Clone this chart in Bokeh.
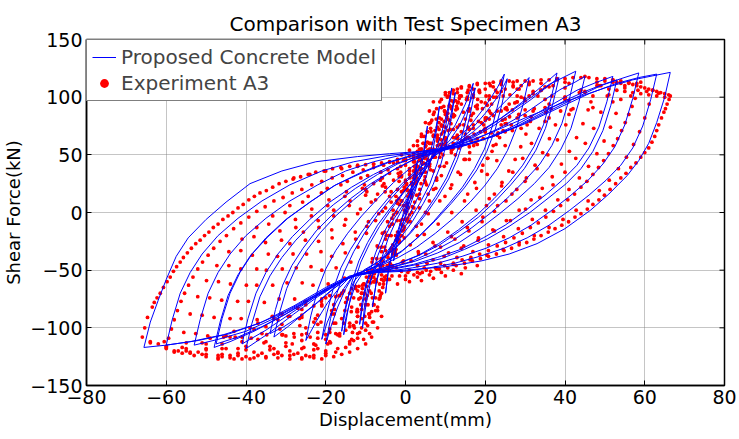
import math
from bokeh.plotting import figure
from bokeh.models import Range1d, FixedTicker, Legend, LegendItem
from bokeh.embed import file_html
from bokeh.resources import INLINE

title_text = "Comparison with Test Specimen A3"
x_label = "Displacement(mm)"
y_label = "Shear Force(kN)"
x_ticks = [-80, -60, -40, -20, 0, 20, 40, 60, 80]
y_ticks = [-150, -100, -50, 0, 50, 100, 150]
model_label = "Proposed Concrete Model"
exp_label = "Experiment A3"

# ---- Proposed concrete model: (displacement mm, shear kN), cycle by cycle ----
m01 = [(0,0),(1,15),(2,30),(3,45),(2.3,28),(1.3,12),(0,-2),(-1.3,-16),(-2.3,-30),(-3,-42)]
m02 = [(-2,-20),(-0.5,0),(1.3,18),(3,34),(4.5,52),(5.5,75),(4.8,55),(3.8,36),(2.4,18),(0.7,2),(-1.2,-14),(-3,-32),(-4.3,-50),(-5,-70)]
m03 = [(-4.2,-48),(-3,-28),(-1.4,-10),(0.5,6),(2.6,22),(4.5,36),(6.2,52),(7.5,70),(8.5,92),(7.7,70),(6.7,50),(5.3,32),(3.5,16),(1.4,1),(-1,-14),(-3.5,-29),(-5.8,-44),(-7.3,-60),(-8.3,-82)]
m04 = [(-7.3,-60),(-6,-40),(-4.3,-22),(-2.2,-6),(0.3,10),(3,26),(5.5,40),(7.3,52),(8.8,66),(10.3,85),(11.6,108),(10.6,85),(9.4,62),(7.9,42),(6,24),(3.6,8),(0.8,-8),(-2.5,-24),(-5.5,-38),(-7.8,-50),(-9.5,-66),(-10.3,-82),(-10.8,-100)]
m05 = [(-9.8,-78),(-8.5,-56),(-6.9,-37),(-5,-20),(-2.8,-5),(0,10),(3,26),(5.5,40),(7.5,52),(9.5,64),(11.2,82),(12.5,104),(11.5,82),(10.3,60),(8.8,41),(6.9,24),(4.5,8),(1.7,-8),(-1.5,-23),(-4.8,-37),(-7.8,-48),(-9.8,-60),(-10.9,-78),(-11.5,-97)]
m06 = [(-10.5,-75),(-9.2,-54),(-7.5,-35),(-5.5,-18),(-3.2,-3),(-0.4,12),(2.6,27),(5.5,41),(7.7,52),(10,62),(12.5,76),(15,94),(17,112),(15.8,90),(14.3,68),(12.5,48),(10.3,30),(7.6,14),(4.5,-2),(1,-18),(-3,-32),(-7,-43),(-10.5,-51),(-12.5,-62),(-14,-78),(-15,-92),(-15.5,-106)]
m07 = [(-14.4,-84),(-13,-62),(-11.2,-43),(-9,-27),(-6.5,-12),(-3.5,3),(-0.3,18),(3,32),(6,45),(8.3,54),(11,62),(13.5,75),(15.8,92),(17.5,108),(16.3,86),(14.8,65),(13,46),(10.8,29),(8,13),(5,-2),(1.5,-17),(-2.5,-31),(-6.5,-42),(-10.5,-50),(-13,-60),(-14.6,-75),(-15.5,-89),(-16,-103)]
m08 = [(-14.9,-82),(-13.5,-61),(-11.7,-42),(-9.5,-26),(-7,-11),(-4,3),(-0.7,17),(2.7,31),(6,44),(8.6,54),(12,62),(16,74),(20,92),(23,108),(24.8,120),(23.5,98),(21.8,75),(19.8,55),(17.3,38),(14.3,22),(11,8),(7,-8),(3,-22),(-1,-34),(-5,-43),(-9,-49),(-13,-54),(-15,-66),(-17,-82),(-18.7,-99),(-20,-114)]
m09 = [(-18.8,-92),(-17.2,-70),(-15.3,-51),(-13,-34),(-10.3,-18),(-7.2,-3),(-3.7,12),(0,26),(4,40),(8,51),(12,59),(16,70),(20,86),(23.5,102),(25.5,116),(24.2,94),(22.5,72),(20.4,53),(17.9,37),(14.9,22),(11.5,8),(7.5,-7),(3.3,-21),(-0.8,-33),(-5,-42),(-9,-49),(-13,-54),(-15.5,-66),(-17.7,-80),(-19.6,-95),(-21,-110)]
m10 = [(-19.8,-88),(-18.2,-67),(-16.2,-48),(-13.8,-32),(-11,-17),(-7.8,-2),(-4.2,13),(-0.3,27),(3.8,40),(8,51),(12.5,59),(17,70),(21.5,84),(25.5,98),(28.5,108),(31,117),(29.6,95),(27.8,73),(25.6,54),(23,38),(19.8,23),(16.2,9),(12,-5),(7.5,-18),(2.8,-30),(-1.8,-39),(-6.2,-46),(-10.5,-51),(-14,-56),(-16.5,-65),(-19.5,-78),(-22.3,-94),(-25,-111)]
m11 = [(-23.7,-89),(-22,-67),(-20,-49),(-17.5,-33),(-14.5,-18),(-11,-3),(-7,12),(-3,26),(1,38),(5,48),(9,55),(14,62),(19,71),(24,82),(29,95),(33,106),(36,115),(38,121),(36.5,99),(34.6,76),(32.2,57),(29.4,41),(26,26),(22.2,12),(18,-2),(13.3,-15),(8.3,-27),(3.3,-37),(-1.7,-44),(-6.5,-49),(-11,-53),(-14.5,-57),(-18,-66),(-22,-78),(-26,-89),(-29.5,-99),(-33,-108)]
m12 = [(-31.6,-87),(-29.8,-66),(-27.5,-48),(-24.8,-33),(-21.5,-18),(-17.5,-3),(-13,11),(-8,25),(-3,37),(2,46),(7,52),(12,58),(17,65),(22,75),(27,87),(31.5,98),(35.5,109),(38.5,117),(37,95),(35.1,73),(32.7,54),(29.8,38),(26.4,24),(22.6,10),(18.3,-4),(13.6,-16),(8.6,-28),(3.5,-37),(-1.5,-44),(-6.5,-49),(-11,-53),(-14.5,-57),(-18.5,-67),(-22.5,-79),(-26.5,-90),(-30.5,-99),(-34,-105)]
m13 = [(-32.6,-84),(-30.8,-63),(-28.5,-46),(-25.7,-31),(-22.4,-16),(-18.4,-2),(-13.8,12),(-8.7,25),(-3.5,36),(1.6,45),(7,52),(12,58),(17,66),(22,77),(27,89),(32,101),(36,111),(39.5,117),(42.7,122.5),(41.2,100),(39.2,77),(36.7,58),(33.7,42),(30,28),(26,14),(21.5,0),(16.7,-13),(11.6,-25),(6.3,-35),(1,-43),(-4.2,-48),(-9,-52),(-13,-55),(-17,-62),(-22,-73),(-28,-88),(-34,-104),(-40,-118)]
m14 = [(-38.5,-96),(-36.5,-73),(-34,-55),(-31,-39),(-27.5,-24),(-23,-8),(-18,7),(-12.5,21),(-7,33),(-2,42),(3,49),(8,54),(13,58),(18,64),(24,74),(30,86),(35,98),(39,107),(42.5,113),(45,118),(43.5,96),(41.5,73),(39,55),(36,39),(32.3,25),(28.2,12),(23.6,-1),(18.7,-14),(13.5,-26),(8.1,-35),(2.6,-42),(-2.8,-47),(-8,-51),(-12.5,-54),(-17,-62),(-23,-74),(-29,-88),(-35,-102),(-41,-114)]
m15 = [(-39.5,-92),(-37.5,-70),(-35,-52),(-32,-36),(-28.4,-21),(-24,-6),(-19,9),(-13.5,22),(-8,33),(-2.7,42),(2.5,48),(8,53),(14,57),(20,64),(26,73),(32,84),(38,96),(43,106),(48,113),(52,118),(50.5,96),(48.5,74),(46,56),(43,41),(39.3,28),(35,15),(30.2,2),(25,-11),(19.5,-22),(13.8,-32),(8,-39),(2,-45),(-4,-49),(-9.5,-52),(-14,-55),(-18,-63),(-24,-76),(-31,-90),(-38,-103),(-44,-112),(-48,-117)]
m16 = [(-46.5,-95),(-44.5,-72),(-42,-54),(-39,-38),(-35,-22),(-30,-6),(-24,9),(-18,23),(-11,35),(-5,43),(0,48),(5,52),(10,55),(16,59),(22,66),(28,75),(34,86),(40,97),(45,105),(49.5,111),(53,115),(51.5,93),(49.5,71),(47,53),(44,38),(40.3,25),(36,13),(31.2,0),(26,-12),(20.5,-23),(14.8,-32),(9,-40),(3,-45),(-3,-49),(-8.5,-52),(-13.5,-55),(-18,-63),(-24,-75),(-30,-88),(-36,-99),(-42,-108),(-47.5,-114)]
m17 = [(-46,-92),(-44,-70),(-41.5,-52),(-38.5,-36),(-34.5,-21),(-29.5,-5),(-23.5,10),(-17.5,24),(-10.5,35),(-4.5,43),(0.5,48),(5,52),(10,55),(16,60),(22,66),(29,76),(36,88),(43,100),(49,110),(54,116),(58.5,121),(57,99),(55,76),(52.5,57),(49.5,42),(45.8,28),(41.5,15),(36.7,2),(31.5,-11),(26,-22),(20.2,-31),(14.2,-38),(8,-44),(1.7,-48),(-4.5,-51),(-10,-53),(-14,-56),(-19,-64),(-26,-79),(-33,-92),(-40,-103),(-47,-110),(-53,-115)]
m18 = [(-51.5,-93),(-49.5,-70),(-47,-52),(-44,-36),(-40,-20),(-35,-5),(-29,10),(-22,24),(-15,36),(-8,44),(-2,49),(4,52),(9,55),(15,59),(22,66),(30,77),(38,90),(46,103),(53,112),(58.5,117),(63,120),(61.5,98),(59.5,75),(57,56),(54,41),(50.3,28),(46,15),(41.2,2),(36,-11),(30.5,-22),(24.7,-31),(18.6,-38),(12.3,-44),(6,-48),(-0.5,-51),(-7,-52),(-12,-54),(-16,-58),(-20,-65),(-28,-81),(-36,-95),(-44,-105),(-52,-111),(-60,-115)]
m19 = [(-58.5,-93),(-56.5,-70),(-54,-52),(-51,-36),(-47,-20),(-42,-5),(-36,10),(-29,24),(-21,36),(-13,44),(-5,49),(2,52),(8,55),(15,61),(22,70),(30,82),(40,96),(50,108),(57,115),(62,118.5),(66.4,121.5),(65,100),(63,78),(61,60),(58.5,45),(55.6,32),(51,16),(46.4,2),(40,-14),(33,-27),(26,-36),(19,-42),(10,-47),(0,-50),(-8,-52),(-13,-55),(-20.8,-68),(-30.7,-87),(-37.4,-97),(-45.7,-106),(-54,-112),(-60,-115),(-65.6,-117)]
m20 = [(-64,-95),(-62,-76),(-60,-58),(-57.5,-38),(-54.5,-22),(-50,-6),(-45,9),(-39,25),(-31,36),(-22.5,44),(-12,48.5),(-4,51),(4,53),(8,55)]

# ---- Experiment A3: measured points, cycle by cycle ----
e01 = [(0,0),(0.5,8),(1,16),(1.6,24),(2.2,32),(2.8,40),(3.4,48),(4,55),(3.4,45),(2.8,35),(2.1,25),(1.4,14),(0.7,4),(0,-6),(-0.8,-16),(-1.6,-26),(-2.4,-36),(-3.2,-47),(-4,-58)]
e02 = [(-3.3,-46),(-2.6,-34),(-1.9,-22),(-1.1,-10),(-0.3,2),(0.6,14),(1.5,26),(2.5,38),(3.5,50),(4.5,60),(5.5,70),(6.3,78),(7,85),(6.3,73),(5.5,61),(4.6,49),(3.6,37),(2.5,25),(1.4,13),(0.3,1),(-0.8,-11),(-2,-23),(-3.2,-36),(-4.4,-49),(-5.5,-62),(-6.4,-74),(-7,-85)]
e03 = [(-6.3,-72),(-5.5,-59),(-4.6,-46),(-3.6,-33),(-2.5,-20),(-1.3,-7),(0,6),(1.3,19),(2.6,32),(3.9,45),(5.1,58),(6.4,70),(7.7,81),(9,91),(10.5,100),(9.8,88),(9,76),(8.1,64),(7.1,52),(6,40),(4.8,28),(3.5,16),(2.1,4),(0.6,-8),(-0.9,-20),(-2.4,-32),(-3.9,-44),(-5.3,-56),(-6.6,-68),(-7.9,-80),(-9,-91),(-10,-102)]
e04 = [(-9.2,-88),(-8.3,-74),(-7.3,-60),(-6.2,-46),(-5,-33),(-3.6,-20),(-2.1,-7),(-0.5,6),(1.1,18),(2.7,30),(4.2,42),(5.6,54),(7,66),(8.4,78),(9.8,88),(11.5,97),(13,104),(14,108),(13.2,96),(12.3,84),(11.2,72),(10,60),(8.6,48),(7,36),(5.3,24),(3.5,12),(1.6,0),(-0.4,-12),(-2.4,-24),(-4.4,-36),(-6.3,-48),(-8,-60),(-9.6,-72),(-11,-84),(-12.3,-95),(-13.3,-104),(-14,-112)]
e05 = [(-13.1,-98),(-12.1,-84),(-11,-70),(-9.8,-56),(-8.4,-43),(-6.9,-30),(-5.2,-17),(-3.4,-5),(-1.5,7),(0.5,19),(2.5,31),(4.5,43),(6.3,55),(8,67),(9.7,79),(11.5,90),(13.5,99),(15.7,106),(18,112),(17,100),(15.9,88),(14.6,76),(13.1,64),(11.5,52),(9.7,40),(7.8,28),(5.7,16),(3.5,4),(1.2,-8),(-1.2,-20),(-3.5,-31),(-5.7,-42),(-7.8,-53),(-9.8,-64),(-11.7,-75),(-13.6,-86),(-15.5,-96),(-17.5,-105),(-18.8,-113),(-20,-120)]
e06 = [(-19,-104),(-17.9,-88),(-16.7,-72),(-15.3,-57),(-13.7,-43),(-11.9,-30),(-9.8,-18),(-7.5,-7),(-5,4),(-2.4,14),(0.2,24),(2.7,35),(4.8,47),(6.6,60),(8.4,72),(10.4,83),(12.8,92),(15.5,100),(18.5,106),(21.3,110),(24,114),(22.8,100),(21.4,86),(19.8,72),(18,59),(16,46),(13.8,33),(11.3,21),(8.6,10),(5.7,-1),(2.7,-12),(-0.3,-22),(-3.2,-32),(-6,-42),(-8.5,-52),(-10.8,-63),(-13,-74),(-15.2,-85),(-17.5,-96),(-20,-106),(-22.5,-115),(-25,-124)]
e07 = [(-23.9,-108),(-22.6,-92),(-21.1,-77),(-19.4,-62),(-17.4,-48),(-15.1,-35),(-12.5,-23),(-9.7,-12),(-6.7,-1),(-3.6,9),(-0.5,19),(2.5,30),(5,42),(7.5,54),(10,64),(13,74),(16.5,84),(20.5,93),(24.5,101),(28,107),(31,113),(29.8,99),(28.4,85),(26.8,71),(25,58),(22.9,45),(20.5,33),(17.8,21),(14.8,10),(11.6,0),(8.2,-10),(4.7,-19),(1.2,-28),(-2.3,-37),(-5.7,-46),(-8.8,-55),(-11.7,-64),(-14.7,-74),(-17.8,-84),(-21.2,-95),(-24.8,-105),(-28.4,-114),(-32,-122)]
e08 = [(-30.8,-106),(-29.4,-90),(-27.8,-75),(-25.9,-61),(-23.7,-47),(-21.2,-34),(-18.4,-22),(-15.3,-11),(-12,-1),(-8.6,9),(-5.1,18),(-1.6,27),(2,36),(5.5,46),(9,56),(13,65),(17,73),(21,81),(25.5,89),(30,97),(34,106),(38,115),(36.7,101),(35.2,87),(33.5,73),(31.6,60),(29.4,47),(26.9,35),(24.1,23),(21,12),(17.7,2),(14.2,-8),(10.6,-17),(6.9,-26),(3.2,-34),(-0.5,-42),(-4.1,-50),(-7.5,-58),(-10.8,-66),(-14.5,-75),(-18.5,-85),(-23,-95),(-28,-105),(-34,-116),(-40,-125)]
e09 = [(-38.7,-109),(-37.2,-93),(-35.4,-78),(-33.3,-63),(-30.9,-49),(-28.2,-36),(-25.1,-24),(-21.7,-13),(-18,-3),(-14.1,6),(-10,15),(-5.8,23),(-1.6,31),(2.6,39),(6.8,48),(11,57),(15.5,65),(20,73),(25,81),(30,89),(35,98),(40,108),(45,118),(43.6,104),(42,90),(40.2,76),(38.1,63),(35.7,50),(33,38),(30,27),(26.7,16),(23.1,6),(19.4,-4),(15.5,-13),(11.5,-21),(7.4,-29),(3.3,-36),(-0.8,-43),(-4.8,-50),(-8.7,-57),(-12.5,-64),(-16.5,-72),(-21,-81),(-26,-91),(-31.5,-101),(-37,-110),(-42,-118),(-47,-124)]
e10 = [(-45.6,-108),(-44,-92),(-42.1,-77),(-39.9,-63),(-37.3,-49),(-34.4,-36),(-31.1,-24),(-27.5,-13),(-23.6,-3),(-19.5,6),(-15.2,14),(-10.8,21),(-6.3,28),(-1.8,34),(2.7,41),(7.2,48),(11.8,55),(16.5,62),(21.5,69),(26.5,76),(31.5,83),(36.5,90),(41,97),(45,104),(48.5,110),(52,115),(50.6,101),(49,87),(47.2,73),(45.1,60),(42.7,47),(40,35),(37,24),(33.7,13),(30.1,3),(26.3,-7),(22.3,-16),(18.2,-24),(14,-31),(9.7,-38),(5.4,-44),(1,-50),(-3.4,-55),(-7.8,-60),(-12.5,-66),(-17.5,-73),(-23,-81),(-29,-90),(-35,-99),(-41,-108),(-46,-114),(-50,-118),(-54,-121)]
e11 = [(-52.6,-105),(-51,-89),(-49.1,-74),(-46.9,-60),(-44.3,-46),(-41.3,-33),(-38,-21),(-34.3,-10),(-30.2,0),(-25.8,9),(-21.1,17),(-16.2,24),(-11.2,30),(-6.2,35),(-1.2,40),(3.8,46),(8.8,52),(14,58),(19.5,64),(25,70),(30.5,76),(36,82),(41.5,89),(46.5,96),(51,102),(55,108),(59,113),(57.6,99),(56,85),(54.2,71),(52.1,58),(49.7,45),(47,33),(44,22),(40.7,11),(37.1,1),(33.3,-9),(29.3,-18),(25.1,-26),(20.8,-33),(16.4,-39),(12,-44),(7.5,-48),(3,-52),(-1.5,-55),(-6,-58),(-10.5,-62),(-15.5,-68),(-21,-75),(-27,-83),(-33,-92),(-39,-100),(-45,-107),(-51,-113),(-56,-117),(-60,-117)]
e12 = [(-58.7,-101),(-57.2,-85),(-55.4,-70),(-53.3,-56),(-50.9,-43),(-48.1,-31),(-44.9,-20),(-41.3,-9),(-37.3,1),(-33,10),(-28.4,17),(-23.5,24),(-18.4,30),(-13.2,35),(-8,39),(-3,43),(2,47),(7,51),(12,56),(17.5,61),(23,67),(29,73),(35,79),(41,85),(47,91),(52,96),(56.5,101),(60.5,105),(63.5,103.5),(66.4,101),(65.6,94),(64.8,87),(63.5,76),(62.5,66),(61,56),(59,48),(56.5,39),(54,30),(51.3,20),(48.5,11),(45.6,3),(42.5,-4),(39.2,-11),(35.8,-17),(32.2,-23),(28.5,-28),(24.7,-33),(20.8,-38),(16.8,-42),(12.7,-46),(8.5,-49),(4.2,-52),(0,-55),(-4.3,-58),(-8.7,-61),(-13.5,-66),(-19,-72),(-25,-80),(-31,-88),(-37,-96),(-43,-103),(-49,-109),(-55,-113),(-60.5,-112),(-66,-108)]
e13 = [(-64.7,-91),(-63.5,-82),(-62.3,-74),(-60.7,-65),(-59,-56),(-57.4,-47),(-55.7,-39),(-53.7,-31),(-51.5,-24),(-49.3,-17),(-47,-10),(-44.5,-3),(-42,4),(-39.3,11),(-36.5,17),(-33.3,22),(-30,27),(-26.3,31),(-22.5,35),(-18.3,38),(-14,40),(-10,41.5),(-6,43),(-2,44)]
# repeated cycles of the test: central pinching band
e14 = [(-12,-105),(-11,-92),(-10,-80),(-9,-68),(-8,-56),(-7,-45),(-6,-34),(-5,-23),(-4,-12),(-3,-2),(-2,8),(-1,18),(0,28),(1,38),(2,48),(3,58),(4,68),(5,78),(6,88),(7,96)]
e15 = [(-10.5,-110),(-9.5,-98),(-8.5,-86),(-7.5,-74),(-6.5,-62),(-5.5,-50),(-4.4,-39),(-3.2,-28),(-2,-17),(-0.8,-6),(0.4,5),(1.6,16),(2.8,27),(4,38),(5.2,49),(6.3,60),(7.4,71),(8.5,82),(9.6,92),(10.8,101)]
e16 = [(-13,-98),(-12.2,-86),(-11.3,-74),(-10.4,-62),(-9.4,-51),(-8.3,-40),(-7.1,-29),(-5.8,-18),(-4.5,-8),(-3.1,2),(-1.7,12),(-0.3,22),(1,33),(2.3,44),(3.5,55),(4.7,66),(5.9,77),(7.2,87),(8.6,96),(10,104)]
e17 = [(-8,-95),(-7,-82),(-6,-70),(-5,-58),(-4,-46),(-2.8,-35),(-1.6,-24),(-0.3,-13),(1,-2),(2.3,9),(3.6,20),(4.9,31),(6.1,42),(7.2,53),(8.3,64),(9.4,75),(10.6,86),(12,96)]
e18 = [(12,103),(11.3,92),(10.5,81),(9.6,70),(8.6,59),(7.5,48),(6.3,37),(5,26),(16,109),(15.3,98),(14.5,87),(13.6,76),(12.6,65),(11.5,54),(10.3,43),(9,32),(7.6,21)]
e19 = [(21,112),(20.2,101),(19.3,90),(18.3,79),(17.2,68),(16,57),(14.7,46),(13.2,35),(11.6,24),(9.9,14),(27,113),(26.2,102),(25.3,91),(24.3,80),(23.2,69),(22,58),(20.6,47),(19.1,36),(17.4,26),(15.6,16)]
e20 = [(34,112),(33.2,101),(32.3,90),(31.3,79),(30.2,68),(28.9,57),(27.5,46),(25.9,36),(24.2,26),(22.3,16),(20.3,6)]
e21 = [(9,98),(10,102),(11,104),(12,106),(13,107),(14,109),(16,110),(18,111),(20,112),(22,113),(24,113),(26,114),(28,114),(30,114),(32,114),(34,115),(36,115),(38,116),(40,116),(42,117),(44,117),(46,117),(48,116),(50,116),(52,115),(54,114),(56,113),(58,112)]
e22 = [(3,48),(6,55),(9,63),(12,72),(15,81),(18,90),(21,98),(24,105),(27,110),(4,50),(8,58),(12,65),(16,72),(20,80),(24,88),(28,96),(32,103),(36,109),(40,113)]
e23 = [(5,52),(10,58),(15,64),(20,70),(25,77),(30,84),(35,91),(40,98),(45,105),(49,110),(53,113)]
e24 = [(-10,-75),(-12,-86),(-14,-96),(-16.5,-105),(-19,-112),(-22,-118),(-11,-70),(-13.5,-82),(-16,-92),(-19,-101),(-22,-109),(-25.5,-117),(-29,-124)]
e25 = [(-12,-68),(-15,-78),(-18.5,-88),(-22,-97),(-26,-106),(-30,-113),(-33,-118),(-36,-122),(-14,-70),(-18,-80),(-22,-89),(-26.5,-98),(-31,-106),(-35.5,-113),(-40,-119),(-44,-124)]
e26 = [(-16,-70),(-21,-80),(-26,-89),(-31,-97),(-36,-105),(-41,-112),(-46,-118),(-51,-123),(-20,-74),(-26,-84),(-32,-93),(-38,-101),(-44,-108),(-50,-114),(-57,-120)]
e27 = [(-64,-112),(-62,-114),(-60,-118),(-58,-121),(-56,-122),(-53,-124),(-50,-125),(-47,-126),(-44,-126),(-41,-127),(-38,-126),(-35,-125),(-32,-126),(-29,-127),(-26,-126),(-23,-124),(-20,-122),(-17,-118),(-14,-114),(-12,-109)]
e28 = [(-27.9,-108),(-26.6,-92),(-25,-77),(-23.2,-63),(-21,-50),(-18.5,-38),(-15.7,-27),(-12.6,-17),(-9.3,-8),(-5.8,1),(-2.2,10),(1.4,19)]
e29 = [(-34.8,-106),(-33.4,-90),(-31.7,-75),(-29.7,-61),(-27.4,-48),(-24.8,-36),(-21.8,-25),(-18.5,-15),(-15,-6),(-11.3,3),(-7.5,11),(-3.6,18),(0.3,25)]
e30 = [(-42.7,-108),(-41.2,-92),(-39.4,-77),(-37.3,-63),(-34.9,-50),(-32.1,-38),(-29,-27),(-25.6,-17),(-21.9,-7),(-18,2),(-13.9,10),(-9.7,18),(-5.4,25),(-1,31)]
e31 = [(-49.6,-107),(-48,-91),(-46.1,-76),(-43.9,-62),(-41.3,-49),(-38.4,-37),(-35.1,-26),(-31.5,-16),(-27.6,-6),(-23.5,3),(-19.2,11),(-14.8,18),(-10.3,24),(-5.8,30),(-1.2,35)]
e32 = [(-55.6,-104),(-54,-88),(-52.1,-73),(-49.9,-59),(-47.3,-46),(-44.3,-34),(-41,-23),(-37.3,-13),(-33.3,-3),(-29,6),(-24.4,14),(-19.6,21),(-14.6,27),(-9.5,32),(-4.4,37)]
e33 = [(-28,30),(-24,33),(-20,36),(-16,38),(-12,40),(-8,42),(-4,44),(0,45)]
e34 = [(41,112),(40,100),(38.9,88),(37.6,76),(36.1,64),(34.4,52),(32.5,41),(30.3,30),(27.9,20),(25.2,10),(22.3,1),(19.2,-8),(15.9,-16),(12.4,-23),(8.8,-30),(5.1,-36),(1.4,-42),(-2.3,-48),(-6,-54)]
e35 = [(48,113),(47,101),(45.8,89),(44.5,77),(42.9,65),(41.1,53),(39.1,42),(36.8,31),(34.3,21),(31.5,11),(28.5,2),(25.3,-7),(21.9,-15),(18.3,-22),(14.6,-29),(10.8,-35),(6.9,-41),(3,-46),(-1,-51)]
e36 = [(55,110),(54,98),(52.8,86),(51.4,74),(49.8,62),(48,51),(45.9,40),(43.6,30),(41,20),(38.2,11),(35.1,2),(31.8,-6),(28.3,-14),(24.6,-21),(20.8,-28),(16.9,-34),(12.9,-39),(8.8,-44),(4.7,-48),(0.6,-52)]
e37 = [(62,106),(61.1,94),(60,82),(58.7,70),(57.2,59),(55.4,48),(53.4,38),(51.1,28),(48.6,19),(45.8,10),(42.8,2),(39.5,-6),(36,-13),(32.3,-20),(28.5,-26),(24.5,-32),(20.4,-37),(16.2,-41),(12,-45),(7.8,-49),(3.6,-53)]
e38 = [(0,-58),(3,-56),(6,-54),(9,-52),(12,-50),(15,-48),(18,-46),(-2,-62),(1,-60),(4,-59),(7,-57),(10,-55),(14,-53)]
e39 = [(8,62),(9,68),(10,74),(11,80),(12,85),(13,90),(14,94),(15.5,98),(17,102),(18.5,105),(20,107),(22,109),(24,111),(6,60),(7,67),(8,74),(9,81),(10,87),(11,92),(12.5,97),(14,101),(15.5,104),(17,107)]
e40 = [(18.6,104),(18.1,98),(17.6,92),(17,86),(16.4,80),(15.7,74),(15,68),(14.2,62),(13.4,56),(12.5,50),(22.6,106),(22.1,100),(21.6,94),(21,88),(20.3,82),(19.6,76),(18.8,70),(18,64),(17.1,58),(16.1,52),(15,46)]
e41 = [(28.5,107),(28,101),(27.4,95),(26.8,89),(26.1,83),(25.3,77),(24.5,71),(23.6,65),(22.7,59),(21.7,53),(20.6,47),(19.4,41),(13.6,101),(13.1,95),(12.6,89),(12,83),(11.4,77),(10.7,71),(10,65),(9.2,59),(8.4,53)]
e42 = [(10,62),(13,67),(16,72),(19,78),(22,84),(25,90),(28,96),(31,101),(34,106),(37,110),(12,60),(16,65),(20,70),(24,76),(28,82),(32,88),(36,94),(40,100),(44,106),(48,110)]
e43 = [(0,47),(1,49),(2,51),(3,53),(4,55),(5,57),(6,60),(-2,46),(-1,50),(1,54),(2,58),(3,62),(4,66)]
e44 = [(-11,-100),(-10.2,-90),(-9.4,-80),(-8.6,-70),(-7.8,-60),(-7,-50),(-6.1,-40),(-5.2,-30),(-4.2,-20),(-3.2,-10),(-2.2,0),(-1.1,10),(0,20),(1.1,30),(2.2,40),(3.3,50),(4.4,60),(5.5,70),(6.6,80),(7.8,90)]
e45 = [(-9,-105),(-8.3,-95),(-7.5,-85),(-6.6,-75),(-5.7,-65),(-4.8,-55),(-3.8,-45),(-2.7,-35),(-1.6,-25),(-0.5,-15),(0.6,-5),(1.7,5),(2.8,15),(3.9,25),(5,35),(6,45),(7,55),(8,65),(9,75),(10,85),(11,93)]
e46 = [(-13.5,-110),(-12.8,-100),(-12,-90),(-11.2,-80),(-10.3,-70),(-9.3,-60),(-8.3,-50),(-7.2,-40),(-6,-30),(-4.8,-20),(-3.5,-10),(-2.2,0),(-0.9,10),(0.4,20),(3,-20),(4,-10),(5,0),(6,10),(7,20),(7.8,30),(8.6,40),(9.4,50)]
e47 = [(-8,-80),(-9,-88),(-10,-96),(-11.5,-104),(-13,-111),(-15,-117),(-17.5,-121),(-20,-124),(-23,-126),(-26,-127),(-12,-90),(-14,-99),(-16.5,-107),(-19.5,-114),(-23,-119),(-27,-122),(-31,-124),(-35,-126),(-39,-127),(-43,-127),(-47,-127)]
e48 = [(-18,-96),(-22,-104),(-26,-111),(-30,-116),(-34,-119),(-38,-121),(-42,-122),(-46,-123),(-50,-123),(-54,-122),(-58,-120),(-25,-100),(-30,-107),(-35,-112),(-40,-116),(-45,-118),(-50,-119),(-55,-118),(-60,-116),(-64,-113)]
e49 = [(-20,-110),(-17,-106),(-15,-102),(-23,-114),(-26,-118),(-29,-120),(-32,-121)]
e50 = [(-65.4,-100),(-63,-78),(-61.5,-70),(-59.8,-60),(-58.2,-51),(-56.5,-43),(-54.7,-35),(-52.6,-27),(-50.4,-20),(-48.2,-13),(-45.8,-6),(-43.3,0),(-40.7,7),(-37.9,14),(-34.9,19),(-31.7,25),(-28.2,29),(-24.4,33),(-20.4,36),(-16.2,39),(-12,41),(-8,42),(-4,43.5)]
e51 = [(-59.4,-109),(-58,-93),(-56.3,-77),(-54.4,-63),(-52.1,-49),(-49.5,-37),(-46.5,-25),(-43.1,-14),(-39.3,-4),(-35.2,5),(-30.7,13),(-26,20),(-21,27),(-15.8,32),(-10.6,37),(-5.5,41),(-0.5,45)]
e52 = [(66.1,98),(65.2,90),(64.2,82),(63,71),(61.8,61),(60,52),(57.8,43),(55.3,34),(52.7,25),(49.9,15),(47,7),(44,-1),(40.9,-8),(37.5,-14),(34,-20),(30.4,-26),(26.6,-31),(22.8,-36),(18.8,-40),(14.8,-44),(10.6,-48),(6.3,-51),(2.1,-54)]
e53 = [(58.3,106),(56.8,92),(55.1,78),(53.2,64),(50.9,51),(48.4,39),(45.5,27),(42.4,16),(38.9,6),(35.2,-4),(31.3,-13),(27.2,-22),(23,-29),(18.6,-36),(14.2,-41),(9.8,-46),(5.2,-50)]
e54 = [(50,114),(52,113),(54,112),(56,112),(57,111),(58,110),(59,109),(60,108),(61,107),(62,106),(63,105),(64,104),(65,103),(66,102),(57,104),(59,103),(61,102),(63,101),(65,100),(55,105),(53,106),(51,107)]
e55 = [(-6,30),(-4,34),(-2,38),(0,41),(2,44),(-8,25),(-5,22),(-3,28),(-1,32),(1,36),(3,40),(-10,20),(-7,16),(-4,14),(-2,20),(0,26),(2,30),(4,34)]
e56 = [(14,70),(17,76),(20,82),(23,88),(26,94),(29,100),(32,105),(35,109),(19,96),(21,101),(23,104),(25,107),(27,109),(29,110),(31,111),(16,90),(18,93),(20,95)]
e57 = [(-6,-90),(-7,-100),(-8.5,-108),(-10,-114),(-12,-118),(-14,-121),(-16,-123),(-18,-125),(-21,-127),(-24,-125),(-28,-123),(-33,-123),(-37,-124),(-42,-124),(-46,-125),(-52,-121),(-55,-120)]

model_cycles = [m01, m02, m03, m04, m05, m06, m07, m08, m09, m10,
                m11, m12, m13, m14, m15, m16, m17, m18, m19, m20]
exp_cycles = [e01, e02, e03, e04, e05, e06, e07, e08, e09, e10, e11, e12, e13,
              e14, e15, e16, e17, e18, e19, e20, e21, e22, e23, e24, e25, e26,
              e27, e28, e29, e30, e31, e32, e33, e34, e35, e36, e37, e38,
              e39, e40, e41, e42, e43, e44, e45, e46, e47, e48, e49, e50,
              e51, e52, e53, e54, e55, e56, e57]

model_x = [pt[0] for c in model_cycles for pt in c]
model_y = [pt[1] for c in model_cycles for pt in c]
exp_x = [pt[0] for c in exp_cycles for pt in c]
exp_y = [pt[1] for c in exp_cycles for pt in c]

FONT = "DejaVu Sans"
x_lo, x_hi = x_ticks[0], x_ticks[-1]
y_lo, y_hi = y_ticks[0], y_ticks[-1]

p = figure(width=739, height=439, x_range=Range1d(x_lo, x_hi), y_range=Range1d(y_lo, y_hi),
           output_backend="svg", toolbar_location=None,
           min_border_left=83, min_border_right=15, min_border_top=39, min_border_bottom=54)

p.title.text = title_text
p.title.align = "center"
p.title.vertical_align = "top"
p.title.text_font = FONT
p.title.text_font_size = "20px"
p.title.text_font_style = "normal"
p.title.text_color = "black"
p.title.standoff = 4

p.outline_line_color = "black"
p.outline_line_width = 1.5
p.background_fill_color = "white"
p.border_fill_color = "white"

xt = FixedTicker(ticks=x_ticks)
yt = FixedTicker(ticks=y_ticks)
p.xaxis.ticker = xt
p.yaxis.ticker = yt
p.xgrid.ticker = xt
p.ygrid.ticker = yt

for ax in (p.xaxis[0], p.yaxis[0]):
    ax.major_tick_in = 5
    ax.major_tick_out = 0
    ax.minor_tick_in = 0
    ax.minor_tick_out = 0
    ax.axis_line_color = "black"
    ax.axis_line_width = 1.5
    ax.major_tick_line_color = "black"
    ax.major_label_text_font = FONT
    ax.major_label_text_font_size = "19px"
    ax.major_label_text_color = "black"
    ax.axis_label_text_font = FONT
    ax.axis_label_text_font_size = "18px"
    ax.axis_label_text_font_style = "normal"
    ax.axis_label_text_color = "black"

p.xaxis.axis_label = x_label
p.yaxis.axis_label = y_label
p.xaxis.major_label_standoff = 4
p.xaxis.axis_label_standoff = 2
p.yaxis.major_label_standoff = 4
p.yaxis.axis_label_standoff = 3

for g in (p.xgrid[0], p.ygrid[0]):
    g.grid_line_color = "#808080"
    g.grid_line_dash = "1 1"
    g.grid_line_width = 1
    g.grid_line_alpha = 0.9

# inward tick marks on the top and right edges of the box (half of each dash is clipped by the frame)
p.scatter(x_ticks, [y_hi] * len(x_ticks), marker="dash", angle=math.pi / 2, size=10,
          line_color="black", line_width=1)
p.scatter([x_hi] * len(y_ticks), y_ticks, marker="dash", size=10,
          line_color="black", line_width=1)

exp_r = p.scatter(exp_x, exp_y, marker="circle", size=3.8, fill_color="#ff0000", line_color=None)
model_r = p.line(model_x, model_y, line_color="#0000ff", line_width=1)

legend = Legend(items=[LegendItem(label=model_label, renderers=[model_r]),
                       LegendItem(label=exp_label, renderers=[exp_r])],
                location="top_left", margin=0, padding=5, spacing=2,
                glyph_width=24, glyph_height=22, label_standoff=5, label_height=22,
                label_text_font=FONT, label_text_font_size="20px",
                border_line_color="black", border_line_width=1.5,
                background_fill_color="white", background_fill_alpha=1)
p.add_layout(legend)

open("out.html", "w").write(file_html(p, INLINE))
